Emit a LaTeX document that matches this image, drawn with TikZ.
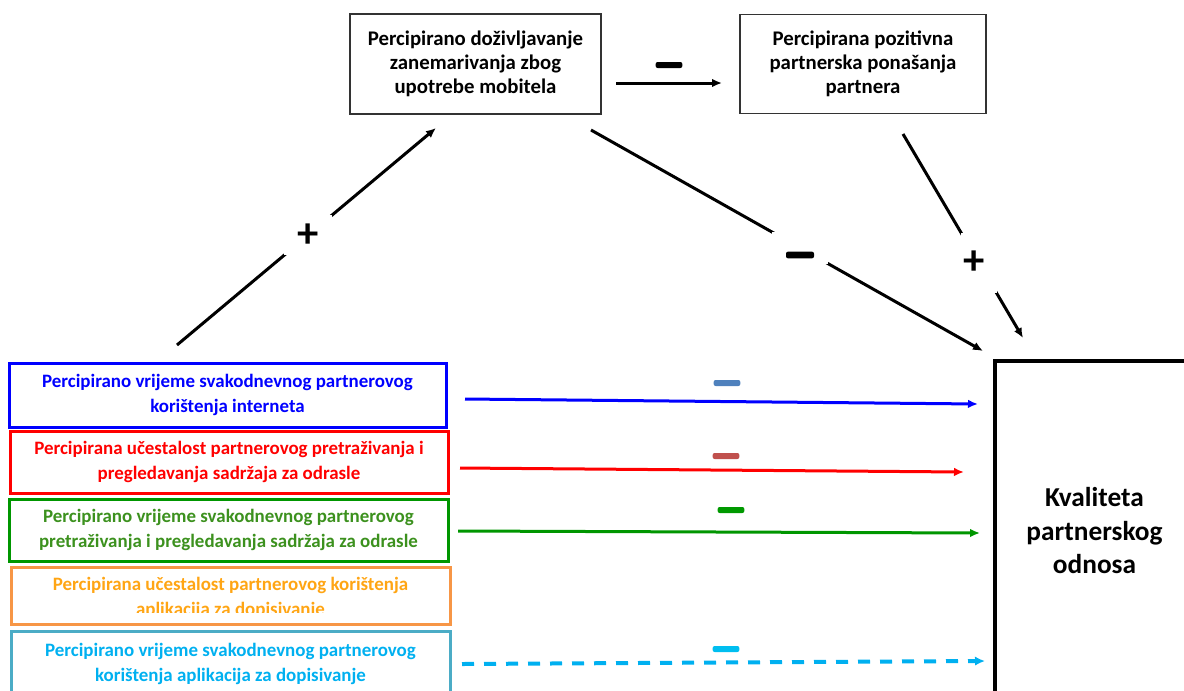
\documentclass[tikz,border=0pt]{standalone}
\usepackage{fontspec}
\setmainfont{Carlito}
\usetikzlibrary{arrows.meta}

\definecolor{bluetxt}{RGB}{0,0,255}
\definecolor{redtxt}{RGB}{255,0,0}
\definecolor{greentxt}{RGB}{60,145,30}
\definecolor{greenline}{RGB}{0,150,0}
\definecolor{orangetxt}{RGB}{255,165,20}
\definecolor{orangebox}{RGB}{247,150,70}
\definecolor{cyantxt}{RGB}{0,176,240}
\definecolor{cyanbox}{RGB}{75,172,198}
\definecolor{minusblue}{RGB}{79,129,189}
\definecolor{minusred}{RGB}{192,80,77}
\definecolor{minusgreen}{RGB}{0,153,0}
\definecolor{minuscyan}{RGB}{0,190,240}

\tikzset{
  topbox/.style={draw=black!80, line width=1pt, fill=white, align=center,
    font=\bfseries\fontsize{15.6}{18}\selectfont},
  predbox/.style={line width=2.25pt, align=center,
    font=\bfseries\fontsize{14.2}{18.75}\selectfont},
  blackarrow/.style={line width=2.25pt, -{Latex[length=7.5pt,width=6.5pt]}},
  colarrow/.style={line width=2.25pt, -{Latex[length=7.5pt,width=6.5pt]}},
  gaplabel/.style={fill=white, inner sep=0pt, minimum width=36pt, minimum height=30pt},
  plussign/.style={font=\bfseries\fontsize{32}{32}\selectfont},
  minusbar/.style={rounded corners=1.5pt, inner sep=0pt, minimum width=20pt, minimum height=4.5pt}
}

\begin{document}
\begin{tikzpicture}[x=0.75pt,y=-0.75pt]
\clip (0,0) rectangle (1184,690);

% mediator boxes
\node[topbox, minimum width=188.25pt, minimum height=75pt] (neglect) at (475.5,64)
  {Percipirano doživljavanje\\zanemarivanja zbog\\upotrebe mobitela};
\node[topbox, minimum width=184.5pt, minimum height=74.25pt] (positive) at (863,64)
  {Percipirana pozitivna\\partnerska ponašanja\\partnera};

% outcome box
\node[draw, line width=3.5pt, align=center, minimum width=149.25pt, minimum height=254.25pt,
  font=\bfseries\fontsize{20.5}{25}\selectfont] (quality) at (1094.5,530.5)
  {Kvaliteta\\partnerskog\\odnosa};

% predictor boxes
\node[predbox, draw=bluetxt, text=bluetxt, minimum width=327.75pt, minimum height=48pt] (internet) at (227.5,395)
  {Percipirano vrijeme svakodnevnog partnerovog\\korištenja interneta};
\node[predbox, draw=redtxt, text=redtxt, minimum width=328.5pt, minimum height=46.5pt] (adultfreq) at (229,462)
  {Percipirana učestalost partnerovog pretraživanja i\\pregledavanja sadržaja za odrasle};
\node[predbox, draw=greenline, text=greentxt, minimum width=329.25pt, minimum height=46.5pt] (adulttime) at (228.5,530)
  {Percipirano vrijeme svakodnevnog partnerovog\\pretraživanja i pregledavanja sadržaja za odrasle};
% the second line of this box runs into its lower border
\begin{scope}
  \clip (11,567) rectangle (450,612);
  \node[predbox, text=orangetxt] (chatfreqtext) at (230.5,597.5)
    {Percipirana učestalost partnerovog korištenja\\aplikacija za dopisivanje};
\end{scope}
\node[predbox, draw=orangebox, minimum width=329.25pt, minimum height=42.75pt] (chatfreq) at (230.5,595.5) {};
\node[predbox, draw=cyanbox, text=cyantxt, minimum width=329.25pt, minimum height=48.75pt] (chattime) at (230.5,664)
  {Percipirano vrijeme svakodnevnog partnerovog\\korištenja aplikacija za dopisivanje};

% connector end points
\coordinate (p1s) at (177,345);  \coordinate (p1e) at (436,128);
\coordinate (p2s) at (591,130);  \coordinate (p2e) at (983,351);
\coordinate (p3s) at (903,134);  \coordinate (p3e) at (1023,338);
\coordinate (p4s) at (616,83);   \coordinate (p4e) at (722,83);
\coordinate (h1s) at (465,399);  \coordinate (h1e) at (978,404);
\coordinate (h2s) at (460,468);  \coordinate (h2e) at (964,472);
\coordinate (h3s) at (458,531);  \coordinate (h3e) at (980,533);
\coordinate (h5s) at (462,664);  \coordinate (h5e) at (985,661);

% black paths
\draw[blackarrow] (p1s) -- node[gaplabel, pos=0.506, plussign] (plusa) {+} (p1e);
\draw[blackarrow] (p2s) -- node[gaplabel, pos=0.533, minimum width=42pt, minimum height=24pt] (gapa) {} (p2e);
\node[minusbar, fill=black, minimum width=21pt, minimum height=5pt] (minusa) at (800,255) {};
\draw[blackarrow] (p3s) -- node[gaplabel, pos=0.63, minimum width=27pt, minimum height=45pt, plussign] (plusb)
  {\hspace*{-6pt}+} (p3e);
\draw[blackarrow] (p4s) -- (p4e);
\node[minusbar, fill=black] (minusb) at (669,65) {};

% colored paths
\draw[colarrow, bluetxt] (h1s) -- (h1e);
\node[minusbar, fill=minusblue] (minusc) at (727,383) {};
\draw[colarrow, redtxt] (h2s) -- (h2e);
\node[minusbar, fill=minusred] (minusd) at (726,456) {};
\draw[colarrow, greenline] (h3s) -- (h3e);
\node[minusbar, fill=minusgreen] (minuse) at (731,510) {};
\draw[line width=3pt, cyantxt, dash pattern=on 9pt off 7.5pt, -{Latex[length=7.5pt,width=7pt]}] (h5s) -- (h5e);
\node[minusbar, fill=minuscyan] (minusf) at (726,649) {};
\end{tikzpicture}
\end{document}
